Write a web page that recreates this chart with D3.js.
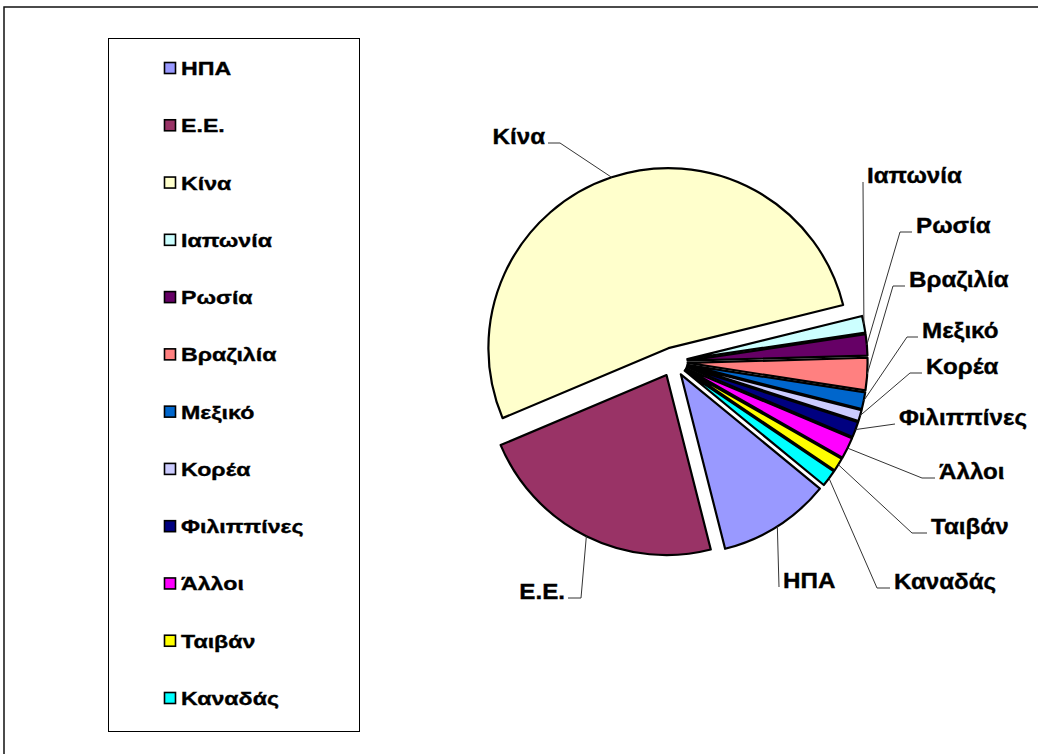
<!DOCTYPE html>
<html>
<head>
<meta charset="utf-8">
<script src="https://cdnjs.cloudflare.com/ajax/libs/d3/7.8.5/d3.min.js"></script>
<style>
  body{margin:0;background:#fff;}
  text{font-family:"Liberation Sans",Arial,sans-serif;font-weight:bold;fill:#000;stroke:#000;stroke-width:0.35px;}
</style>
</head>
<body>
<div id="chart"></div>
<script>
// data
var countries = ["ΗΠΑ","Ε.Ε.","Κίνα","Ιαπωνία","Ρωσία","Βραζιλία","Μεξικό","Κορέα","Φιλιππίνες","Άλλοι","Ταιβάν","Καναδάς"];
var shares    = [10.1, 22.6, 52.5, 1.5, 1.9, 2.9, 1.5, 1.0, 1.4, 1.9, 1.2, 1.5];
var colors    = ["#9999ff","#993366","#ffffcc","#ccffff","#660066","#ff8080","#0066cc","#ccccff","#000080","#ff00ff","#ffff00","#00ffff"];

// where each label's leader line bends (ex,ey) and how long its horizontal tail is
var labelPos = [
  {ex:779, ey:587, tail:0},
  {ex:581, ey:598, tail:-13},
  {ex:560, ey:143, tail:-12},
  {ex:863, ey:182, tail:0},
  {ex:900, ey:232, tail:12},
  {ex:893, ey:286, tail:12},
  {ex:907, ey:337, tail:11},
  {ex:910, ey:373, tail:12},
  {ex:895, ey:424, tail:0},
  {ex:922, ey:478, tail:13},
  {ex:912, ey:533, tail:15},
  {ex:877, ey:588, tail:13}
];

var W = 1038, H = 754;
var cx = 673, cy = 362, R = 180, explode = 14.6;
var startDeg = 129.4;
var labelFont = 22, labelScale = 1.1;
var legendFont = 19, legendScale = 1.22;

var svg = d3.select("#chart").append("svg")
    .attr("width", W).attr("height", H);

// outer frame
svg.append("rect")
    .attr("x", 4).attr("y", 7)
    .attr("width", W + 10).attr("height", H + 10)
    .attr("fill", "none").attr("stroke", "#111").attr("stroke-width", 1.5);

// legend
var legend = svg.append("g");
legend.append("rect")
    .attr("x", 108.5).attr("y", 38.5).attr("width", 251).attr("height", 693)
    .attr("fill", "#fff").attr("stroke", "#000").attr("stroke-width", 1);

var rowY = d3.scalePoint().domain(countries).range([68, 698]);

var item = legend.selectAll("g.item").data(countries).enter().append("g")
    .attr("class", "item")
    .attr("transform", function(d){ return "translate(0," + rowY(d) + ")"; });
item.append("rect")
    .attr("x", 164.5).attr("y", -5.5).attr("width", 11).attr("height", 11)
    .attr("fill", function(d, i){ return colors[i]; })
    .attr("stroke", "#000").attr("stroke-width", 1.6);
item.append("text")
    .attr("transform", "translate(181,7) scale(" + legendScale + ",1)")
    .style("font-size", legendFont + "px")
    .text(function(d){ return d; });

// pie
var pie = d3.pie().sort(null)
    .startAngle(startDeg * Math.PI / 180)
    .endAngle((startDeg + 360) * Math.PI / 180);
var arcs = pie(shares);
var arc = d3.arc().innerRadius(0).outerRadius(R);

function offset(d, r){
  var a = (d.startAngle + d.endAngle) / 2;
  return [cx + (explode + r) * Math.sin(a), cy - (explode + r) * Math.cos(a)];
}

svg.append("g").selectAll("path").data(arcs).enter().append("path")
    .attr("transform", function(d){ var p = offset(d, 0); return "translate(" + p[0] + "," + p[1] + ")"; })
    .attr("d", arc)
    .attr("fill", function(d, i){ return colors[i]; })
    .attr("stroke", "#000").attr("stroke-width", 2.2).attr("stroke-linejoin", "round");

// leader lines and labels
var lab = svg.append("g").selectAll("g").data(arcs).enter().append("g");
lab.append("polyline")
    .attr("points", function(d, i){
      var p = offset(d, R), L = labelPos[i];
      return [p, [L.ex, L.ey], [L.ex + L.tail, L.ey]].map(function(q){ return q.join(","); }).join(" ");
    })
    .attr("fill", "none").attr("stroke", "#333").attr("stroke-width", 1);
lab.append("text")
    .attr("transform", function(d, i){
      var L = labelPos[i], right = L.tail >= 0;
      var x = L.ex + L.tail + (right ? 4 : -3);
      return "translate(" + x + "," + (L.ey + 1) + ") scale(" + labelScale + ",1)";
    })
    .attr("text-anchor", function(d, i){ return labelPos[i].tail >= 0 ? "start" : "end"; })
    .style("font-size", labelFont + "px")
    .text(function(d, i){ return countries[i]; });
</script>
</body>
</html>
